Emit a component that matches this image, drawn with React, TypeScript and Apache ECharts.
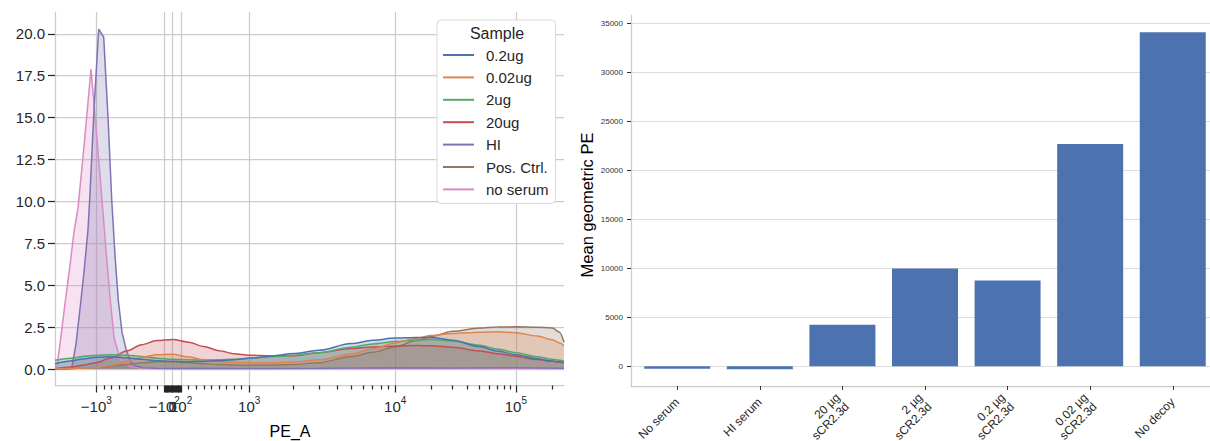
import React, { useEffect, useRef } from "react";
import * as echarts from "echarts";

// ---------- Left panel: KDE of PE_A per sample ----------
const sampleNames = ["0.2ug", "0.02ug", "2ug", "20ug", "HI", "Pos. Ctrl.", "no serum"];
const sampleColors = ["#4c72b0", "#dd8452", "#55a868", "#c44e52", "#8172b3", "#937860", "#da8bc3"];

// shared PE_A grid for the broad curves
const peGrid = [-1918, -1500, -1200, -1000, -800, -600, -400, -200, 0, 200, 400, 600, 800, 1000, 1500, 2000, 3000, 5000, 7000, 10000, 15000, 20000, 30000, 50000, 70000, 100000, 150000, 200000, 230000, 250000];
const density02ug = [0.32, 0.48, 0.62, 0.70, 0.74, 0.68, 0.58, 0.50, 0.46, 0.44, 0.45, 0.50, 0.56, 0.65, 0.80, 0.93, 1.12, 1.52, 1.72, 1.85, 1.89, 1.89, 1.72, 1.34, 1.08, 0.85, 0.61, 0.48, 0.43, 0.40];
const density002ug = [0.02, 0.04, 0.06, 0.09, 0.22, 0.45, 0.70, 0.86, 0.88, 0.72, 0.55, 0.45, 0.40, 0.38, 0.38, 0.42, 0.55, 0.90, 1.20, 1.56, 1.84, 2.00, 2.12, 2.20, 2.22, 2.17, 1.97, 1.75, 1.55, 1.40];
const density2ug = [0.52, 0.65, 0.76, 0.82, 0.86, 0.83, 0.75, 0.65, 0.59, 0.55, 0.54, 0.55, 0.59, 0.65, 0.75, 0.82, 0.98, 1.30, 1.50, 1.64, 1.74, 1.77, 1.68, 1.42, 1.20, 0.98, 0.74, 0.58, 0.52, 0.47];
const density20ug = [0.02, 0.12, 0.25, 0.38, 0.68, 1.08, 1.45, 1.70, 1.77, 1.60, 1.35, 1.10, 0.92, 0.83, 0.78, 0.80, 0.98, 1.22, 1.32, 1.38, 1.40, 1.39, 1.30, 1.08, 0.92, 0.76, 0.57, 0.46, 0.41, 0.38];
const densityPosCtrl = [0.01, 0.03, 0.06, 0.09, 0.17, 0.28, 0.37, 0.43, 0.44, 0.38, 0.32, 0.27, 0.24, 0.23, 0.24, 0.27, 0.38, 0.75, 1.00, 1.32, 1.70, 1.95, 2.25, 2.45, 2.51, 2.52, 2.50, 2.45, 2.20, 1.60];

// narrow peaks
const hiPE = [-1918, -1600, -1474, -1377, -1293, -1214, -1140, -1104, -1037, -968, -902, -845, -796, -753, -709, -660, -607, -554, -488, -382, -200, 0, 300, 1000, 3000, 10000, 30000, 100000, 250000];
const hiDensity = [0, 0, 0.05, 1.5, 3.6, 5.8, 8.3, 10.5, 15.5, 20.28, 19.8, 15.0, 10.1, 6.8, 4.1, 2.2, 1.2, 0.5, 0.2, 0.08, 0.05, 0.04, 0.05, 0.04, 0.05, 0.08, 0.07, 0.08, 0.05];
const noSerumPE = [-1918, -1867, -1773, -1638, -1514, -1421, -1335, -1214, -1140, -1087, -1037, -978, -925, -872, -819, -766, -687, -554, -422, -200, 0, 500, 2000, 10000, 50000, 250000];
const noSerumDensity = [0, 0.05, 1.5, 3.9, 6.2, 8.2, 9.6, 13.3, 15.9, 17.9, 15.8, 13.0, 10.1, 7.1, 4.3, 1.9, 0.6, 0.15, 0.06, 0.04, 0.03, 0.04, 0.04, 0.05, 0.06, 0.04];

const densityTicks = [0, 2.5, 5, 7.5, 10, 12.5, 15, 17.5, 20];
const densityRange = [-0.98, 21.3];
const peRange = [-1918, 250000];
const peMajorTicks = [-1000, -100, 0, 100, 1000, 10000, 100000];
const peMajorLabels = [["−10", "3"], ["−10", "2"], ["0", ""], ["10", "2"], ["10", "3"], ["10", "4"], ["10", "5"]];
const peMinorTicks = [-900, -800, -700, -600, -500, -400, -300, -200, 200, 300, 400, 500, 600, 700, 800, 900, 2000, 3000, 4000, 5000, 6000, 7000, 8000, 9000, 20000, 30000, 40000, 50000, 60000, 70000, 80000, 90000, 200000];
const peLinearTicks = [-90, -80, -70, -60, -50, -40, -30, -20, -10, 10, 20, 30, 40, 50, 60, 70, 80, 90];

// ---------- Right panel: bar chart ----------
const barCategories = ["No serum", "HI serum", "20 µg\nsCR2.3d", "2 µg\nsCR2.3d", "0.2 µg\nsCR2.3d", "0.02 µg\nsCR2.3d", "No decoy"];
const barValues = [-250, -300, 4220, 9960, 8740, 22650, 34050];
const barTicks = [0, 5000, 10000, 15000, 20000, 25000, 30000, 35000];
const barRange = [-2020, 35820];

// display transform of the PE_A axis (linear near zero, log further out)
function tf(v: number): number {
  const a = Math.abs(v);
  const s = v < 0 ? -1 : 1;
  let t: number;
  if (a <= 100) t = a * 0.084;
  else if (a <= 1000) t = 8.4 + ((a - 100) * 68) / 900;
  else if (a <= 10000 || v < 0) t = 76.4 + 146 * Math.log10(a / 1000);
  else t = 222 + 121 * Math.log10(a / 10000);
  return s * t;
}

const FONT = "'Liberation Sans', Arial, Helvetica, sans-serif";
const INK = "#262626";
const GRIDC = "#cccccc";

export default function App() {
  const ref = useRef<HTMLDivElement>(null);
  useEffect(() => {
    document.body.style.margin = "0";
    if (!ref.current) return;
    const chart = echarts.init(ref.current, undefined, { renderer: "svg" });

    const curves = [
      { name: sampleNames[0], pe: peGrid, d: density02ug, smooth: true },
      { name: sampleNames[1], pe: peGrid, d: density002ug, smooth: true },
      { name: sampleNames[2], pe: peGrid, d: density2ug, smooth: true },
      { name: sampleNames[3], pe: peGrid, d: density20ug, smooth: true },
      { name: sampleNames[4], pe: hiPE, d: hiDensity, smooth: false },
      { name: sampleNames[5], pe: peGrid, d: densityPosCtrl, smooth: true },
      { name: sampleNames[6], pe: noSerumPE, d: noSerumDensity, smooth: false },
    ];
    const lineSeries = curves
      .map((c, i) => ({
        type: "line",
        name: c.name,
        xAxisIndex: 0,
        yAxisIndex: 0,
        data: c.pe.map((v, j) => [tf(v), c.d[j]]),
        showSymbol: false,
        symbol: "none",
        smooth: c.smooth ? 0.3 : false,
        smoothMonotone: "x",
        lineStyle: { width: 1.5, color: sampleColors[i] },
        itemStyle: { color: sampleColors[i] },
        areaStyle: { color: sampleColors[i], opacity: 0.25 },
        emphasis: { disabled: true },
      }))
      .reverse();

    const majorT = peMajorTicks.map(tf);
    const majorLabel = (v: number) => {
      let k = 0;
      let best = Infinity;
      majorT.forEach((t, i) => {
        const d = Math.abs(t - v);
        if (d < best) {
          best = d;
          k = i;
        }
      });
      const [b, e] = peMajorLabels[k];
      return e ? `{b|${b}}{e|${e}}` : `{b|${b}}`;
    };

    const tickStyle = { color: INK, width: 1.25 };

    chart.setOption({
      animation: false,
      textStyle: { fontFamily: FONT },
      grid: [
        { left: 55, top: 12, width: 509, height: 373.5, outerBoundsMode: "none", containLabel: false },
        { left: 631, top: 15, right: -9, bottom: 55, outerBoundsMode: "none", containLabel: false },
      ],
      xAxis: [
        {
          type: "value",
          gridIndex: 0,
          position: "bottom",
          min: tf(peRange[0]),
          max: tf(peRange[1]),
          axisLine: { show: true, onZero: false, lineStyle: { color: GRIDC, width: 1.25 } },
          axisTick: { show: true, customValues: majorT, length: 7, lineStyle: tickStyle },
          axisLabel: {
            show: true,
            customValues: majorT,
            formatter: majorLabel,
            margin: 9,
            hideOverlap: false,
            color: INK,
            rich: {
              b: { fontSize: 15, lineHeight: 24, color: INK, fontFamily: FONT },
              e: { fontSize: 10, lineHeight: 11, padding: [0, 0, 13, 0], color: INK, fontFamily: FONT },
            },
          },
          splitLine: { show: true, lineStyle: { color: GRIDC, width: 1.25 } },
        },
        {
          type: "value",
          gridIndex: 0,
          position: "bottom",
          min: tf(peRange[0]),
          max: tf(peRange[1]),
          axisLine: { show: false, onZero: false },
          axisTick: { show: true, customValues: peMinorTicks.map(tf), length: 4, lineStyle: tickStyle },
          axisLabel: { show: false },
          splitLine: { show: false },
        },
        {
          type: "value",
          gridIndex: 0,
          position: "bottom",
          min: tf(peRange[0]),
          max: tf(peRange[1]),
          axisLine: { show: false, onZero: false },
          axisTick: { show: true, customValues: peLinearTicks.map(tf), length: 7, lineStyle: tickStyle },
          axisLabel: { show: false },
          splitLine: { show: false },
        },
        {
          type: "value",
          gridIndex: 1,
          position: "bottom",
          min: -0.56,
          max: 6.56,
          axisLine: { show: true, onZero: false, lineStyle: { color: GRIDC, width: 1.25 } },
          axisTick: { show: true, customValues: barCategories.map((_, i) => i), length: 4, lineStyle: { color: "#333", width: 1 } },
          axisLabel: {
            show: true,
            customValues: barCategories.map((_, i) => i),
            formatter: (v: number) => barCategories[Math.round(v)],
            rotate: 45,
            fontSize: 12,
            lineHeight: 13,
            margin: 14,
            color: INK,
            hideOverlap: false,
          },
          splitLine: { show: false },
        },
      ],
      yAxis: [
        {
          type: "value",
          gridIndex: 0,
          min: densityRange[0],
          max: densityRange[1],
          axisLine: { show: true, onZero: false, lineStyle: { color: GRIDC, width: 1.25 } },
          axisTick: { show: true, customValues: densityTicks, length: 7, lineStyle: tickStyle },
          axisLabel: {
            show: true,
            customValues: densityTicks,
            formatter: (v: number) => v.toFixed(1),
            fontSize: 15,
            margin: 10,
            color: INK,
            hideOverlap: false,
          },
          splitLine: { show: true, lineStyle: { color: GRIDC, width: 1.25 } },
        },
        {
          type: "value",
          gridIndex: 1,
          min: barRange[0],
          max: barRange[1],
          axisLine: { show: true, onZero: false, lineStyle: { color: GRIDC, width: 1.25 } },
          axisTick: { show: true, customValues: barTicks, length: 4, lineStyle: { color: "#333", width: 1 } },
          axisLabel: {
            show: true,
            customValues: barTicks,
            formatter: (v: number) => String(Math.round(v)),
            fontSize: 8,
            margin: 8,
            color: "#333",
            hideOverlap: false,
          },
          splitLine: { show: true, lineStyle: { color: "#dddddd", width: 1 } },
        },
      ],
      legend: {
        data: sampleNames,
        orient: "vertical",
        left: 437,
        top: 20,
        padding: [27, 7, 6, 6],
        itemWidth: 31,
        itemHeight: 2,
        itemGap: 6.4,
        icon: "rect",
        selectedMode: false,
        backgroundColor: "#ffffff",
        borderColor: "#d9d9d9",
        borderWidth: 1,
        borderRadius: 4,
        textStyle: { fontSize: 15, lineHeight: 16, color: INK, padding: [0, 0, 0, 7], fontFamily: FONT },
      },
      graphic: [
        {
          type: "text",
          x: 497,
          y: 33,
          z: 100,
          style: { text: "Sample", fontSize: 16, fontFamily: FONT, fill: INK, align: "center", verticalAlign: "middle", textAlign: "center", textVerticalAlign: "middle" },
        },
        {
          type: "text",
          x: 290,
          y: 431,
          z: 100,
          style: { text: "PE_A", fontSize: 16, fontFamily: FONT, fill: "#000", align: "center", verticalAlign: "middle", textAlign: "center", textVerticalAlign: "middle" },
        },
        {
          type: "text",
          x: 587,
          y: 205,
          z: 100,
          rotation: Math.PI / 2,
          style: { text: "Mean geometric PE", fontSize: 16.5, fontFamily: FONT, fill: "#000", align: "center", verticalAlign: "middle", textAlign: "center", textVerticalAlign: "middle" },
        },
      ],
      series: [
        ...lineSeries,
        {
          type: "bar",
          xAxisIndex: 3,
          yAxisIndex: 1,
          data: barValues.map((v, i) => [i, v]),
          barWidth: 66,
          itemStyle: { color: "#4c72b0" },
          emphasis: { disabled: true },
        },
      ],
    });

    return () => chart.dispose();
  }, []);
  return <div ref={ref} style={{ width: 1210, height: 441 }} />;
}
